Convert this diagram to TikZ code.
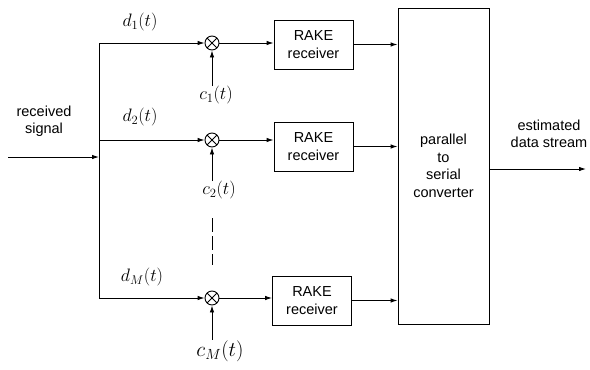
\documentclass[tikz,border=0pt]{standalone}
\usepackage{fix-cm}
\usepackage{fontspec}
\setmainfont{Liberation Sans}
\usetikzlibrary{arrows.meta}

\tikzset{
  mix/.style={circle, draw, minimum size=14pt, inner sep=0pt,
    path picture={\draw (path picture bounding box.north west)--(path picture bounding box.south east)
                        (path picture bounding box.north east)--(path picture bounding box.south west);}},
  rake/.style={draw, minimum width=79pt, minimum height=49pt, inner sep=1pt, align=center},
  sig/.style={font=\fontsize{18}{20}\selectfont}
}

\begin{document}
\begin{tikzpicture}[x=1pt, y=-1pt, line width=0.9pt, >={Latex[length=7pt,width=4.5pt]},
                    every node/.style={font=\fontsize{14.5}{17.5}\selectfont}]
  \useasboundingbox (0,0) rectangle (590,370);

  \coordinate (in)  at (8,157);
  \coordinate (bus) at (99,157);
  \coordinate (b1)  at (99,43);
  \coordinate (b2)  at (99,140);
  \coordinate (bM)  at (99,298);
  \coordinate (out) at (586,169);
  \coordinate (g1)  at (212,218);
  \coordinate (g2)  at (212,265);

  \node[mix] (m1) at (212,43) {};
  \node[mix] (m2) at (212,140) {};
  \node[mix] (mM) at (212,298) {};

  \node[rake] (r1) at (313.5,44.5)  {RAKE\\receiver};
  \node[rake] (r2) at (313.5,146.5) {RAKE\\receiver};
  \node[rake] (rM) at (312,300.5)   {RAKE\\receiver};

  \node[draw, minimum width=91pt, minimum height=316pt, align=center] (ps) at (443.5,166)
    {parallel\\to\\serial\\converter};

  \node[align=center] (rx)  at (44,121)  {received\\signal};
  \node[align=center] (est) at (549,134) {estimated\\data stream};

  \node[sig] (d1) at (140,22)  {$d_1(t)$};
  \node[sig] (d2) at (140,117) {$d_2(t)$};
  \node[sig] (dM) at (142,277) {$d_M(t)$};
  \node[sig] (c1) at (216,95)  {$c_1(t)$};
  \node[sig] (c2) at (219,190) {$c_2(t)$};
  \node[font=\fontsize{21}{24}\selectfont] (cM) at (220,351) {$c_M(t)$};

  \draw[->] (in) -- (bus);
  \draw (b1) -- (bM);
  \draw[->] (b1) -- (m1);
  \draw[->] (b2) -- (m2);
  \draw[->] (bM) -- (mM);

  \draw[->] ([yshift=-4pt]c1.north -| m1) -- (m1.south);
  \draw[->] ([yshift=-4pt]c2.north -| m2) -- (m2.south);
  \draw[->] ([yshift=-3pt]cM.north -| mM) -- (mM.south);
  \draw[line width=0.6pt, dash pattern=on 14pt off 4pt] (g1) -- (g2);

  \draw[->] (m1.east) -- (m1.east -| r1.west);
  \draw[->] (m2.east) -- (m2.east -| r2.west);
  \draw[->] (mM.east) -- (mM.east -| rM.west);

  \draw[->] (r1.east) -- (r1.east -| ps.west);
  \draw[->] (r2.east) -- (r2.east -| ps.west);
  \draw[->] (rM.east) -- (rM.east -| ps.west);

  \draw[->] (ps.east |- out) -- (out);
\end{tikzpicture}
\end{document}
